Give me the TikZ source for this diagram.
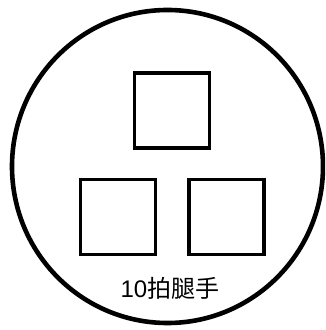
\documentclass[tikz,border=0pt]{standalone}
\usepackage{fontspec}
\setmainfont{Liberation Sans}
\newfontfamily\cjk{Noto Sans CJK SC}
\usetikzlibrary{positioning}

\tikzset{
  kasten/.style={draw,line width=3.6pt,minimum size=75pt,inner sep=0pt},
}

\begin{document}
\begin{tikzpicture}[x=1pt,y=1pt]
  \useasboundingbox (0,0) rectangle (325,330);
  \clip (0,0) rectangle (325,330);
  \draw[line width=4.6pt] (167.5,163.5) ellipse [x radius=155.5,y radius=156.5];
  \node[kasten] (oben) at (172,219.5) {};
  \node[kasten] (links) at (118,113) {};
  \node[kasten] (rechts) at (226.5,113) {};
  \node[font=\fontsize{24}{28}\selectfont] (titel) at (170,42) {10{\cjk 拍腿手}};
\end{tikzpicture}
\end{document}
